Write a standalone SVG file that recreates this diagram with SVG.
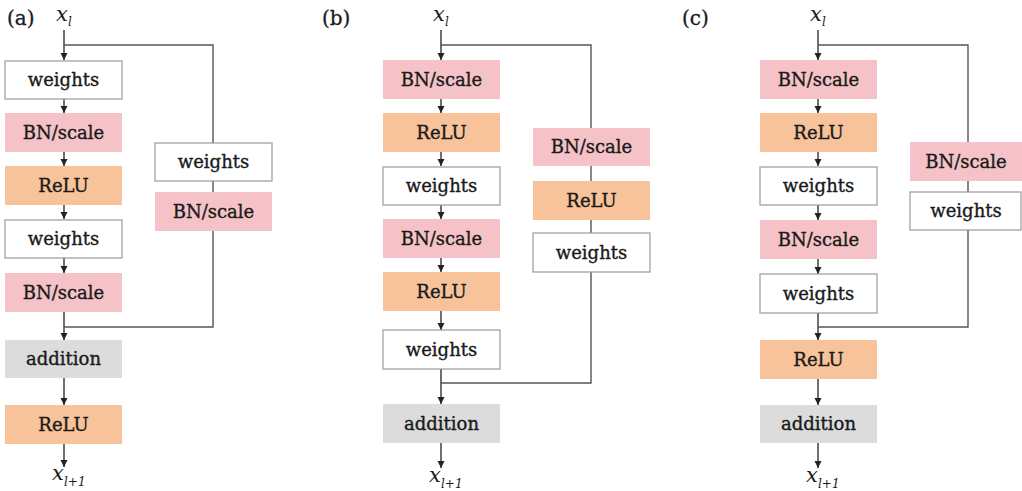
<svg xmlns="http://www.w3.org/2000/svg" width="1022" height="491" viewBox="0 0 1022 491">
<style>
.t{font-family:"DejaVu Serif","Liberation Serif",serif;font-size:18px;fill:#1a1a1a;stroke:#1a1a1a;stroke-width:0.35;text-anchor:middle}
.lab{font-family:"DejaVu Serif","Liberation Serif",serif;font-size:20px;fill:#1a1a1a;stroke:#1a1a1a;stroke-width:0.3}
.m{font-family:"DejaVu Serif","Liberation Serif",serif;font-style:italic;fill:#1a1a1a}
.w{fill:#fff;stroke:#9a9a9a;stroke-width:1.2}
.bn{fill:#f5c3c7}
.re{fill:#f8c39b}
.ad{fill:#dcdcdc}
.c{fill:none;stroke:#333;stroke-width:1.4}
.s{fill:none;stroke:#555;stroke-width:1.4}
</style>
<defs>
<marker id="ah" markerUnits="userSpaceOnUse" markerWidth="8" markerHeight="8" refX="7" refY="4" orient="auto">
<path d="M0,0.5 L7,4 L0,7.5 z" fill="#222"/>
</marker>
</defs>
<rect width="1022" height="491" fill="#fff"/>
<text class="lab" x="7" y="25">(a)</text>
<text class="lab" x="322" y="25">(b)</text>
<text class="lab" x="682" y="25">(c)</text>

<g id="connectors">
<!-- (a) -->
<path class="c" d="M64,30 V60" marker-end="url(#ah)"/>
<path class="c" d="M64,99 V113" marker-end="url(#ah)"/>
<path class="c" d="M64,152 V166" marker-end="url(#ah)"/>
<path class="c" d="M64,205 V219" marker-end="url(#ah)"/>
<path class="c" d="M64,258 V273" marker-end="url(#ah)"/>
<path class="c" d="M64,312 V340" marker-end="url(#ah)"/>
<path class="c" d="M64,378 V405" marker-end="url(#ah)"/>
<path class="c" d="M64,444 V467" marker-end="url(#ah)"/>
<path class="s" d="M64,45 H213 V143"/>
<path class="s" d="M213,181 V192"/>
<path class="s" d="M213,231 V327 H64"/>
<!-- (b) -->
<path class="c" d="M441,30 V60" marker-end="url(#ah)"/>
<path class="c" d="M441,99 V113" marker-end="url(#ah)"/>
<path class="c" d="M441,152 V166" marker-end="url(#ah)"/>
<path class="c" d="M441,205 V219" marker-end="url(#ah)"/>
<path class="c" d="M441,258 V272" marker-end="url(#ah)"/>
<path class="c" d="M441,311 V330" marker-end="url(#ah)"/>
<path class="c" d="M441,369 V404" marker-end="url(#ah)"/>
<path class="c" d="M441,443 V468" marker-end="url(#ah)"/>
<path class="s" d="M441,45 H591 V128"/>
<path class="s" d="M591,166 V181"/>
<path class="s" d="M591,220 V233"/>
<path class="s" d="M591,272 V383 H441"/>
<!-- (c) -->
<path class="c" d="M818,30 V60" marker-end="url(#ah)"/>
<path class="c" d="M818,99 V113" marker-end="url(#ah)"/>
<path class="c" d="M818,152 V166" marker-end="url(#ah)"/>
<path class="c" d="M818,205 V220" marker-end="url(#ah)"/>
<path class="c" d="M818,259 V274" marker-end="url(#ah)"/>
<path class="c" d="M818,313 V340" marker-end="url(#ah)"/>
<path class="c" d="M818,379 V405" marker-end="url(#ah)"/>
<path class="c" d="M818,443 V468" marker-end="url(#ah)"/>
<path class="s" d="M818,45 H968 V142"/>
<path class="s" d="M968,181 V192"/>
<path class="s" d="M968,230 V327 H818"/>
</g>

<!-- (a) nodes -->
<g id="a-xl"><text class="m" x="56" y="21" font-size="21">x</text><text class="m" x="68" y="26" font-size="12">l</text></g>
<g id="a-w1"><rect class="w" x="5" y="61" width="117" height="38"/><text class="t" x="63.5" y="86">weights</text></g>
<g id="a-bn1"><rect class="bn" x="5" y="113" width="117" height="39"/><text class="t" x="63.5" y="139">BN/scale</text></g>
<g id="a-relu1"><rect class="re" x="5" y="166" width="117" height="39"/><text class="t" x="63.5" y="192">ReLU</text></g>
<g id="a-w2"><rect class="w" x="5" y="220" width="117" height="38"/><text class="t" x="63.5" y="245">weights</text></g>
<g id="a-bn2"><rect class="bn" x="5" y="273" width="117" height="39"/><text class="t" x="63.5" y="299">BN/scale</text></g>
<g id="a-add"><rect class="ad" x="5" y="340" width="117" height="38"/><text class="t" x="63.5" y="365">addition</text></g>
<g id="a-relu2"><rect class="re" x="5" y="405" width="117" height="39"/><text class="t" x="63.5" y="431">ReLU</text></g>
<g id="a-xl1"><text class="m" x="52" y="480" font-size="21">x</text><text class="m" x="64" y="486" font-size="12">l+1</text></g>
<g id="a-sw"><rect class="w" x="155" y="143" width="117" height="38"/><text class="t" x="213.5" y="168">weights</text></g>
<g id="a-sbn"><rect class="bn" x="155" y="192" width="117" height="39"/><text class="t" x="213.5" y="218">BN/scale</text></g>

<!-- (b) nodes -->
<g id="b-xl"><text class="m" x="433" y="21" font-size="21">x</text><text class="m" x="445" y="26" font-size="12">l</text></g>
<g id="b-bn1"><rect class="bn" x="383" y="60" width="117" height="39"/><text class="t" x="441.5" y="86">BN/scale</text></g>
<g id="b-relu1"><rect class="re" x="383" y="113" width="117" height="39"/><text class="t" x="441.5" y="139">ReLU</text></g>
<g id="b-w1"><rect class="w" x="383" y="167" width="117" height="38"/><text class="t" x="441.5" y="192">weights</text></g>
<g id="b-bn2"><rect class="bn" x="383" y="219" width="117" height="39"/><text class="t" x="441.5" y="245">BN/scale</text></g>
<g id="b-relu2"><rect class="re" x="383" y="272" width="117" height="39"/><text class="t" x="441.5" y="298">ReLU</text></g>
<g id="b-w2"><rect class="w" x="383" y="330" width="117" height="39"/><text class="t" x="441.5" y="356">weights</text></g>
<g id="b-add"><rect class="ad" x="383" y="404" width="117" height="39"/><text class="t" x="441.5" y="430">addition</text></g>
<g id="b-xl1"><text class="m" x="429" y="482" font-size="21">x</text><text class="m" x="441" y="488" font-size="12">l+1</text></g>
<g id="b-sbn"><rect class="bn" x="533" y="128" width="117" height="38"/><text class="t" x="591.5" y="153">BN/scale</text></g>
<g id="b-srelu"><rect class="re" x="533" y="181" width="117" height="39"/><text class="t" x="591.5" y="207">ReLU</text></g>
<g id="b-sw"><rect class="w" x="533" y="233" width="117" height="39"/><text class="t" x="591.5" y="259">weights</text></g>

<!-- (c) nodes -->
<g id="c-xl"><text class="m" x="810" y="21" font-size="21">x</text><text class="m" x="822" y="26" font-size="12">l</text></g>
<g id="c-bn1"><rect class="bn" x="760" y="60" width="117" height="39"/><text class="t" x="818.5" y="86">BN/scale</text></g>
<g id="c-relu1"><rect class="re" x="760" y="113" width="117" height="39"/><text class="t" x="818.5" y="139">ReLU</text></g>
<g id="c-w1"><rect class="w" x="760" y="167" width="117" height="38"/><text class="t" x="818.5" y="192">weights</text></g>
<g id="c-bn2"><rect class="bn" x="760" y="220" width="117" height="39"/><text class="t" x="818.5" y="246">BN/scale</text></g>
<g id="c-w2"><rect class="w" x="760" y="274" width="117" height="39"/><text class="t" x="818.5" y="300">weights</text></g>
<g id="c-relu2"><rect class="re" x="760" y="340" width="117" height="39"/><text class="t" x="818.5" y="366">ReLU</text></g>
<g id="c-add"><rect class="ad" x="760" y="405" width="117" height="38"/><text class="t" x="818.5" y="430">addition</text></g>
<g id="c-xl1"><text class="m" x="806" y="482" font-size="21">x</text><text class="m" x="818" y="488" font-size="12">l+1</text></g>
<g id="c-sbn"><rect class="bn" x="910" y="142" width="112" height="39"/><text class="t" x="966" y="168">BN/scale</text></g>
<g id="c-sw"><rect class="w" x="910" y="192" width="111" height="38"/><text class="t" x="966" y="217">weights</text></g>
</svg>
